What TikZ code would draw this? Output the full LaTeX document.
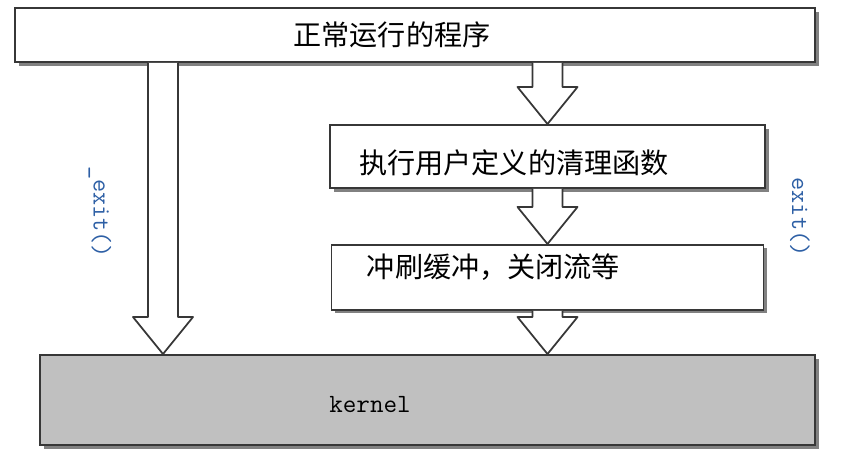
\documentclass[tikz,border=0pt]{standalone}
\usepackage{fontspec}
\newfontfamily\cjk{Noto Sans CJK SC}
\usetikzlibrary{positioning,calc,shadows}
\definecolor{edge}{RGB}{55,55,55}
\definecolor{kgray}{RGB}{192,192,192}
\definecolor{callblue}{RGB}{45,95,165}

\begin{document}
\begin{tikzpicture}[
  box/.style={
    rectangle, draw=edge, line width=1.1pt, fill=white, inner sep=0pt,
    drop shadow={shadow xshift=2pt, shadow yshift=-2pt, fill=black!70, opacity=0.7}
  },
  kbox/.style={box, fill=kgray},
  lbl/.style={font=\cjk\fontsize{16}{18}\selectfont, inner sep=0pt},
  klbl/.style={font=\ttfamily\fontsize{15}{17}\selectfont, inner sep=0pt},
  call/.style={font=\ttfamily\fontsize{14.5}{16}\selectfont, text=callblue, rotate=-90},
  fatarr/.style={
    draw=edge, fill=white, line width=1pt, line join=round,
    to path={let \p1=(\tikztostart), \p2=(\tikztotarget) in
      (\x1-0.3cm,\y1) -- (\x1-0.3cm,\y2+0.74cm) -- (\x1-0.6cm,\y2+0.74cm)
      -- (\x1,\y2) -- (\x1+0.6cm,\y2+0.74cm) -- (\x1+0.3cm,\y2+0.74cm) -- (\x1+0.3cm,\y1)}
  },
]
\useasboundingbox (0,0) rectangle (17.08,9.14);

\node[box, minimum width=16cm, minimum height=1.08cm,
  label={[lbl, xshift=-0.46cm]center:正常运行的程序}] (prog) at (8.3,8.44) {};
\node[box, minimum width=8.7cm, minimum height=1.26cm,
  label={[lbl, xshift=-0.67cm, yshift=-0.13cm]center:执行用户定义的清理函数}] (clean) at (10.95,6.01) {};
\node[box, minimum width=8.64cm, minimum height=1.3cm, below=1.1cm of clean,
  label={[lbl, xshift=-1.08cm, yshift=0.21cm]center:冲刷缓冲，关闭流等}] (flush) {};
\node[kbox, minimum width=15.5cm, minimum height=1.8cm,
  label={[klbl, xshift=-1.15cm, yshift=-0.1cm]center:kernel}] (kernel) at (8.55,1.14) {};

\coordinate (fast) at (3.26,0);

% arrows between stages
\draw[fatarr] (prog.south -| fast) to (kernel.north -| fast);
\draw[fatarr] (prog.south -| clean.north) to (clean.north);
\draw[fatarr] (clean.south) to (flush.north);
\draw[fatarr] (flush.south) to (kernel.north -| flush.south);

\node[call] (quick) at (2.0,4.9) {\_exit()};
\node[call] (normal) at (16.0,4.8) {exit()};

\end{tikzpicture}
\end{document}
